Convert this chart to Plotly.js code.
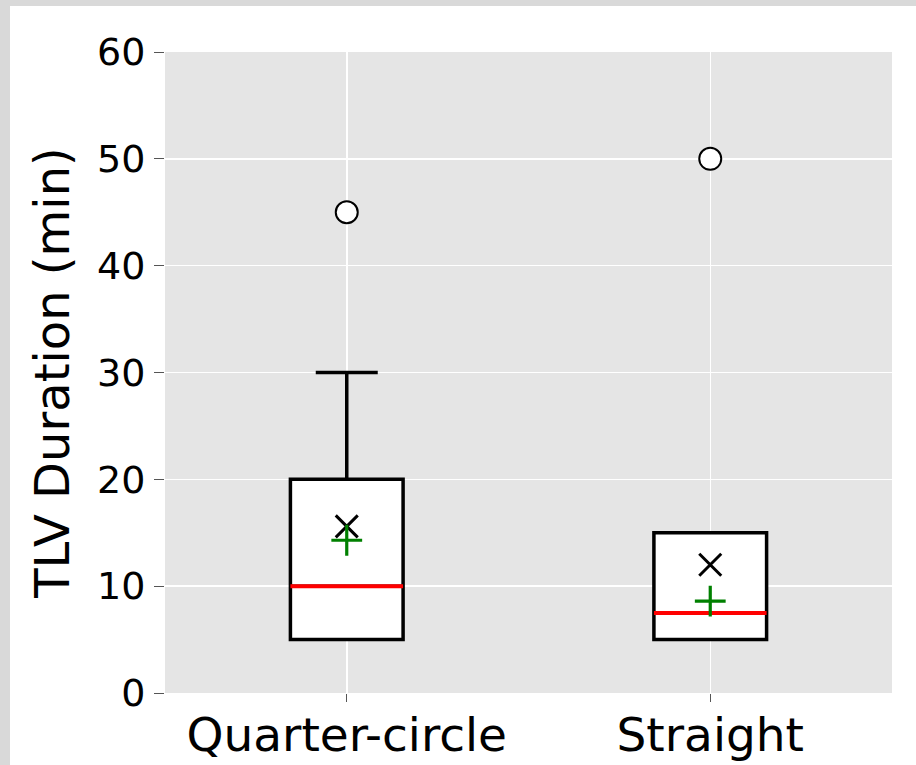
<!DOCTYPE html>
<html>
<head>
<meta charset="utf-8">
<script src="https://cdn.plot.ly/plotly-3.0.1.min.js"></script>
<style>
  html, body { margin: 0; padding: 0; background: #d9d9d9; width: 916px; height: 765px; overflow: hidden; }
  #chart { position: absolute; left: 10px; top: 6px; width: 906px; height: 759px; background: #ffffff; }
</style>
</head>
<body>
<div id="chart"></div>
<script>
// Data
const categories = ["Quarter-circle", "Straight"];
const q1Vals = [5, 5];
const medianVals = [10, 7.5];
const q3Vals = [20, 15];
const lowerWhisker = [5, 5];
const upperWhisker = [30, 15];
const outlierVals = [45, 50];
const meanVals = [15.6, 12.0];     // black "x" markers
const plusVals = [14.3, 8.6];      // green "+" markers
const yTicks = [0, 10, 20, 30, 40, 50, 60];

const font = "DejaVu Sans, sans-serif";

const boxTrace = {
  type: "box",
  x: categories,
  q1: q1Vals,
  median: medianVals,
  q3: q3Vals,
  lowerfence: lowerWhisker,
  upperfence: upperWhisker,
  width: 0.31,
  whiskerwidth: 0.55,
  fillcolor: "#ffffff",
  line: { color: "#000000", width: 3.5 },
  boxpoints: false,
  hoverinfo: "skip",
  showlegend: false
};

const medianTrace = {
  type: "box",
  x: categories,
  q1: medianVals,
  median: medianVals,
  q3: medianVals,
  lowerfence: medianVals,
  upperfence: medianVals,
  width: 0.31,
  whiskerwidth: 0,
  fillcolor: "rgba(0,0,0,0)",
  line: { color: "#ff0000", width: 4 },
  boxpoints: false,
  hoverinfo: "skip",
  showlegend: false
};

const outlierTrace = {
  type: "scatter",
  mode: "markers",
  x: categories,
  y: outlierVals,
  marker: { symbol: "circle", size: 22, color: "#ffffff", line: { color: "#000000", width: 2 } },
  hoverinfo: "skip",
  showlegend: false
};

const meanTrace = {
  type: "scatter",
  mode: "markers",
  x: categories,
  y: meanVals,
  marker: { symbol: "x-thin-open", size: 22, color: "#000000", line: { color: "#000000", width: 3 } },
  hoverinfo: "skip",
  showlegend: false
};

const plusTrace = {
  type: "scatter",
  mode: "markers",
  x: categories,
  y: plusVals,
  marker: { symbol: "cross-thin-open", size: 22, color: "#008000", line: { color: "#008000", width: 3.2 } },
  hoverinfo: "skip",
  showlegend: false
};

const layout = {
  width: 906,
  height: 759,
  paper_bgcolor: "#ffffff",
  plot_bgcolor: "#e5e5e5",
  margin: { l: 155, r: 24, t: 46, b: 72 },
  boxmode: "overlay",
  showlegend: false,
  font: { family: font, color: "#000000" },
  xaxis: {
    type: "category",
    categoryorder: "array",
    categoryarray: categories,
    range: [-0.5, 1.5],
    showgrid: true,
    gridcolor: "#ffffff",
    gridwidth: 1.5,
    zeroline: false,
    showline: false,
    ticks: "outside",
    ticklen: 8,
    tickwidth: 1,
    tickcolor: "#555555",
    ticklabelstandoff: -7,
    tickfont: { family: font, size: 47, color: "#000000" }
  },
  yaxis: {
    range: [0, 60],
    tickvals: yTicks,
    ticktext: yTicks.map(String),
    showgrid: true,
    gridcolor: "#ffffff",
    gridwidth: 1.5,
    zeroline: false,
    showline: false,
    ticks: "outside",
    ticklen: 10,
    tickwidth: 1,
    tickcolor: "#555555",
    ticklabelstandoff: 1,
    tickfont: { family: font, size: 38, color: "#000000" },
    title: { text: "TLV Duration (min)", font: { family: font, size: 48, color: "#000000" }, standoff: 12 }
  }
};

Plotly.newPlot("chart", [boxTrace, medianTrace, outlierTrace, meanTrace, plusTrace], layout, { displayModeBar: false, staticPlot: true });
</script>
</body>
</html>
